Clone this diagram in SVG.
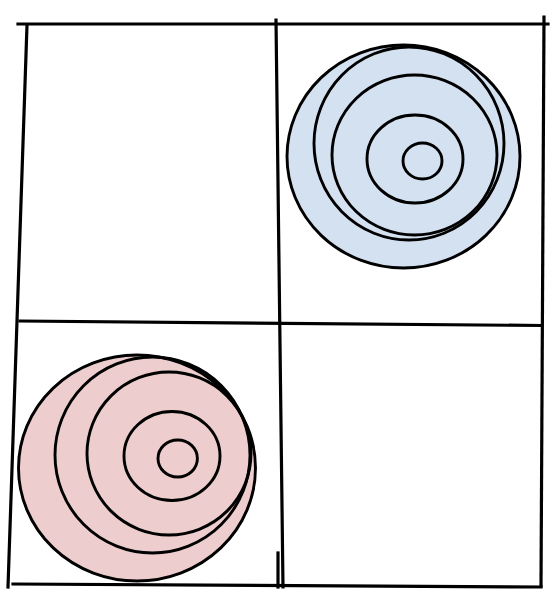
<svg xmlns="http://www.w3.org/2000/svg" width="560" height="602" viewBox="0 0 560 602">
<style>
.grid{stroke:#000;stroke-width:3.2;fill:none;stroke-linecap:square}
.ring{stroke:#000;stroke-width:2.9;fill:none}
.blue{fill:#d4e1f0}
.red{fill:#edcdcd}
</style>
<rect width="560" height="602" fill="#fff"/>
<g id="grid" class="grid">
<line x1="18" y1="24" x2="548" y2="24"/>
<line x1="27" y1="25" x2="8" y2="587"/>
<line x1="276" y1="20" x2="283" y2="587"/>
<line x1="278" y1="553" x2="278" y2="587"/>
<line x1="544" y1="17" x2="541" y2="586"/>
<line x1="20" y1="321" x2="540" y2="325.5"/>
<line x1="13" y1="584" x2="541" y2="587"/>
</g>
<g id="blue-target">
<ellipse class="ring blue" cx="403.5" cy="156.5" rx="116.5" ry="111.5"/>
<ellipse class="ring" cx="409" cy="143.5" rx="95" ry="96.5"/>
<ellipse class="ring" cx="414.5" cy="155" rx="82.5" ry="80"/>
<ellipse class="ring" cx="415" cy="159" rx="48" ry="44"/>
<ellipse class="ring" cx="422.5" cy="161" rx="19.5" ry="18"/>
</g>
<g id="red-target">
<ellipse class="ring red" cx="137" cy="468" rx="118.5" ry="113"/>
<ellipse class="ring" cx="152.5" cy="455" rx="97.5" ry="98"/>
<ellipse class="ring" cx="169" cy="453.5" rx="82" ry="81.5"/>
<ellipse class="ring" cx="172" cy="456" rx="48" ry="44.5"/>
<ellipse class="ring" cx="177.7" cy="458.5" rx="19.7" ry="18.5"/>
</g>
</svg>
